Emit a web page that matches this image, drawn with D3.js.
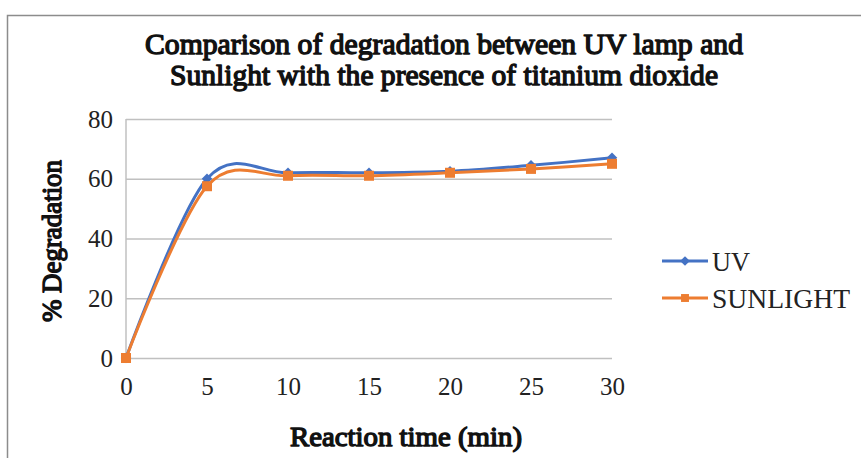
<!DOCTYPE html>
<html>
<head>
<meta charset="utf-8">
<script src="https://cdn.jsdelivr.net/npm/d3@7"></script>
<style>
  body { margin: 0; background: #fff; }
  svg { display: block; font-family: "Liberation Serif", serif; }
</style>
</head>
<body>
<svg id="chart" width="861" height="458"></svg>
<script>
var times = [0, 5, 10, 15, 20, 25, 30];
var uv = [0, 60, 62, 62, 62.5, 64.5, 67];
var sunlight = [0, 57.5, 61, 61, 62, 63.3, 65];
var yTicks = [0, 20, 40, 60, 80];
var xTicks = [0, 5, 10, 15, 20, 25, 30];
var seriesNames = ["UV", "SUNLIGHT"];
var titleLines = ["Comparison of degradation between UV lamp and",
                  "Sunlight with the presence of titanium dioxide"];

var width = 861, height = 458;
var margin = { top: 119, right: 249, bottom: 100, left: 126 };

var svg = d3.select("#chart");

// outer border of chart area
svg.append("rect")
    .attr("x", 7.5).attr("y", 15.5)
    .attr("width", 900).attr("height", 500)
    .attr("fill", "none")
    .attr("stroke", "#8c8c8c")
    .attr("stroke-width", 1.5);

var x = d3.scaleLinear()
    .domain([0, 30])
    .range([margin.left, width - margin.right]);
var y = d3.scaleLinear()
    .domain([0, 80])
    .range([height - margin.bottom, margin.top]);

// bold look: regular serif with a thin stroke
function boldText(sel, size) {
    return sel.attr("font-size", size)
        .attr("fill", "#111")
        .attr("stroke", "#111")
        .attr("stroke-width", 1.4)
        .attr("stroke-linejoin", "round");
}

// gridlines
var yAxis = d3.axisLeft(y).tickValues(yTicks)
    .tickSize(-(x.range()[1] - x.range()[0])).tickPadding(13);
var gy = svg.append("g")
    .attr("transform", "translate(" + margin.left + ",0)")
    .call(yAxis);
gy.select(".domain").remove();
gy.selectAll(".tick line").attr("stroke", "#c0c0c0").attr("stroke-width", 1.5);
gy.selectAll(".tick text")
    .attr("font-size", 25).attr("fill", "#222")
    .attr("font-family", "Liberation Serif");

// vertical axis line
svg.append("line")
    .attr("x1", margin.left).attr("x2", margin.left)
    .attr("y1", y(80)).attr("y2", y(0))
    .attr("stroke", "#c0c0c0").attr("stroke-width", 1.5);

var xAxis = d3.axisBottom(x).tickValues(xTicks).tickSize(0).tickPadding(19);
var gx = svg.append("g")
    .attr("transform", "translate(0," + y(0) + ")")
    .call(xAxis);
gx.select(".domain").remove();
gx.selectAll(".tick text")
    .attr("font-size", 25).attr("fill", "#222")
    .attr("font-family", "Liberation Serif");

var line = d3.line()
    .x(function (d, i) { return x(times[i]); })
    .y(function (d) { return y(d); })
    .curve(d3.curveCardinal.tension(0));

svg.append("path").datum(uv)
    .attr("d", line)
    .attr("fill", "none").attr("stroke", "#4472C4").attr("stroke-width", 3);
svg.append("path").datum(sunlight)
    .attr("d", line)
    .attr("fill", "none").attr("stroke", "#ED7D31").attr("stroke-width", 3);

var diamond = d3.symbol().type(d3.symbolDiamond2).size(70);
svg.append("g").selectAll("path")
    .data(uv).enter().append("path")
    .attr("d", diamond)
    .attr("transform", function (d, i) { return "translate(" + x(times[i]) + "," + y(d) + ")"; })
    .attr("fill", "#4472C4");

svg.append("g").selectAll("rect")
    .data(sunlight).enter().append("rect")
    .attr("x", function (d, i) { return x(times[i]) - 5; })
    .attr("y", function (d) { return y(d) - 5; })
    .attr("width", 10).attr("height", 10)
    .attr("fill", "#ED7D31");

// title
var titleWidths = [598, 548];
var title = svg.append("g");
boldText(title.selectAll("text").data(titleLines).enter().append("text")
    .attr("text-anchor", "middle")
    .attr("x", 444)
    .attr("y", function (d, i) { return 54 + i * 31; })
    .attr("textLength", function (d, i) { return titleWidths[i]; })
    .attr("lengthAdjust", "spacingAndGlyphs")
    .text(function (d) { return d; }), 30);

// axis titles
boldText(svg.append("text")
    .attr("x", 406)
    .attr("y", 446)
    .attr("text-anchor", "middle")
    .attr("textLength", 232)
    .attr("lengthAdjust", "spacingAndGlyphs")
    .text("Reaction time (min)"), 28);

boldText(svg.append("text")
    .attr("transform", "translate(61,241) rotate(-90)")
    .attr("text-anchor", "middle")
    .attr("textLength", 162)
    .attr("lengthAdjust", "spacingAndGlyphs")
    .text("% Degradation"), 28);

// legend
var colors = ["#4472C4", "#ED7D31"];
var leg = svg.append("g").selectAll("g")
    .data(seriesNames).enter().append("g")
    .attr("transform", function (d, i) { return "translate(662," + (261 + i * 37) + ")"; });
leg.append("line")
    .attr("x1", 0).attr("x2", 46)
    .attr("stroke", function (d, i) { return colors[i]; })
    .attr("stroke-width", 3);
leg.append("path")
    .attr("transform", "translate(23,0)")
    .attr("d", function (d, i) {
        return i === 0 ? d3.symbol().type(d3.symbolDiamond2).size(60)()
                       : d3.symbol().type(d3.symbolSquare2).size(80)();
    })
    .attr("fill", function (d, i) { return colors[i]; });
leg.append("text")
    .attr("x", 50).attr("dy", "0.35em")
    .attr("font-size", 28).attr("fill", "#222")
    .attr("textLength", function (d, i) { return i === 0 ? 38 : 138; })
    .attr("lengthAdjust", "spacingAndGlyphs")
    .text(function (d) { return d; });
</script>
</body>
</html>
